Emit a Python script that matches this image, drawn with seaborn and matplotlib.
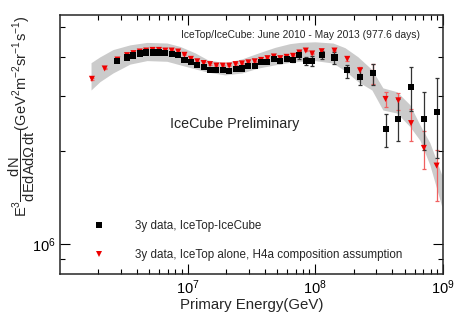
import numpy as np
import pandas as pd
import matplotlib
matplotlib.use('Agg')
import matplotlib.pyplot as plt
import matplotlib.ticker as ticker
import seaborn as sns

# log10(E / GeV) of the bin centres
logE_icecube = [6.45, 6.525, 6.575, 6.625, 6.675, 6.725, 6.775, 6.825, 6.875, 6.925,
                6.975, 7.025, 7.075, 7.125, 7.175, 7.225, 7.275, 7.325, 7.375, 7.425,
                7.475, 7.525, 7.575, 7.625, 7.675, 7.725, 7.775, 7.825, 7.875, 7.925,
                7.975, 8.05, 8.15, 8.25, 8.35, 8.45, 8.55, 8.65, 8.75, 8.85, 8.95]
# E^3 dN/dE... in units of 1e6 GeV^2 m^-2 sr^-1 s^-1
flux_icecube = [3.88, 3.98, 4.04, 4.10, 4.13, 4.13, 4.13, 4.11, 4.09, 4.05,
                3.91, 3.84, 3.77, 3.72, 3.64, 3.64, 3.64, 3.61, 3.66, 3.67,
                3.73, 3.74, 3.86, 3.86, 3.95, 3.87, 3.94, 3.91, 4.06, 3.88,
                3.88, 4.05, 3.98, 3.62, 3.45, 3.55, 2.34, 2.53, 3.20, 2.53, 2.66]
err_lo_icecube = [0.03, 0.03, 0.03, 0.03, 0.03, 0.03, 0.03, 0.03, 0.03, 0.03,
                  0.03, 0.03, 0.03, 0.03, 0.03, 0.03, 0.03, 0.03, 0.03, 0.03,
                  0.03, 0.03, 0.04, 0.04, 0.04, 0.05, 0.06, 0.06, 0.12, 0.12,
                  0.14, 0.12, 0.18, 0.20, 0.21, 0.30, 0.29, 0.38, 0.52, 0.52, 0.77]
err_hi_icecube = [0.03, 0.03, 0.03, 0.03, 0.03, 0.03, 0.03, 0.03, 0.03, 0.03,
                  0.03, 0.03, 0.03, 0.03, 0.03, 0.03, 0.03, 0.03, 0.03, 0.03,
                  0.03, 0.03, 0.04, 0.04, 0.04, 0.05, 0.06, 0.06, 0.12, 0.12,
                  0.14, 0.12, 0.18, 0.15, 0.23, 0.25, 0.28, 0.40, 0.51, 0.56, 0.76]

logE_icetop = [6.25, 6.35, 6.45, 6.525, 6.575, 6.625, 6.675, 6.725, 6.775, 6.825,
               6.875, 6.925, 6.975, 7.025, 7.075, 7.125, 7.175, 7.225, 7.275, 7.325,
               7.375, 7.425, 7.475, 7.525, 7.575, 7.625, 7.675, 7.725, 7.775, 7.825,
               7.875, 7.925, 7.975, 8.05, 8.15, 8.25, 8.35, 8.45, 8.55, 8.65,
               8.75, 8.85, 8.95]
flux_icetop = [3.40, 3.67, 3.92, 4.05, 4.11, 4.16, 4.19, 4.21, 4.21, 4.19,
               4.19, 4.16, 4.06, 3.94, 3.87, 3.82, 3.79, 3.75, 3.75, 3.75,
               3.79, 3.81, 3.84, 3.87, 3.91, 3.96, 4.01, 3.96, 4.00, 4.03,
               4.13, 4.19, 4.10, 4.17, 4.19, 3.94, 3.62, 3.55, 2.93, 2.90,
               2.45, 2.04, 1.79]
err_lo_icetop = [0.02] * 35 + [0.06, 0.10, 0.28, 0.17, 0.20, 0.30, 0.30, 0.41]
err_hi_icetop = [0.02] * 35 + [0.06, 0.10, 0.25, 0.15, 0.17, 0.27, 0.28, 0.22]

# systematic band
band_logE = [6.243, 6.313, 6.415, 6.548, 6.681, 6.838, 6.940, 7.057, 7.159, 7.292,
             7.425, 7.550, 7.684, 7.801, 7.879, 7.997, 8.138, 8.232, 8.334, 8.443,
             8.529, 8.639, 8.740, 8.819, 8.897, 8.991]
band_hi = [3.83, 4.00, 4.22, 4.37, 4.45, 4.43, 4.32, 4.12, 3.91, 3.83,
           3.94, 4.11, 4.29, 4.41, 4.45, 4.47, 4.43, 4.28, 4.00, 3.64,
           3.18, 3.09, 2.81, 2.42, 2.12, 1.67]
band_lo = [3.13, 3.33, 3.55, 3.79, 3.89, 3.87, 3.77, 3.66, 3.57, 3.50,
           3.55, 3.68, 3.77, 3.84, 3.87, 3.89, 3.82, 3.61, 3.33, 3.13,
           2.70, 2.64, 2.39, 2.16, 1.80, 1.32]

lab_ic = '3y data, IceTop-IceCube'
lab_it = '3y data, IceTop alone, H4a composition assumption'

sns.set_style('ticks')
plt.rcParams['font.family'] = ['Liberation Sans', 'DejaVu Sans']
plt.rcParams['mathtext.fontset'] = 'custom'
plt.rcParams['mathtext.rm'] = 'Liberation Sans'
plt.rcParams['mathtext.it'] = 'Liberation Sans'
plt.rcParams['mathtext.bf'] = 'Liberation Sans:bold'

# red first so the black squares sit on top
df = pd.concat([
    pd.DataFrame({'E': 10 ** np.array(logE_icetop), 'flux': np.array(flux_icetop) * 1e6, 'sample': lab_it}),
    pd.DataFrame({'E': 10 ** np.array(logE_icecube), 'flux': np.array(flux_icecube) * 1e6, 'sample': lab_ic}),
], ignore_index=True)

fig = plt.figure(figsize=(4.63, 3.17), dpi=100)
ax = fig.add_axes([0.1296, 0.1356, 0.8272, 0.8171])

ax.fill_between(10 ** np.array(band_logE), np.array(band_lo) * 1e6, np.array(band_hi) * 1e6,
                color='#cbcbcb', lw=0, zorder=1)

ax.errorbar(10 ** np.array(logE_icetop), np.array(flux_icetop) * 1e6,
            yerr=[np.array(err_lo_icetop) * 1e6, np.array(err_hi_icetop) * 1e6],
            fmt='none', ecolor='#f06060', elinewidth=0.9, capsize=1.6, capthick=0.9, zorder=2)
ax.errorbar(10 ** np.array(logE_icecube), np.array(flux_icecube) * 1e6,
            yerr=[np.array(err_lo_icecube) * 1e6, np.array(err_hi_icecube) * 1e6],
            fmt='none', ecolor='#333333', elinewidth=0.9, capsize=1.6, capthick=0.9, zorder=3)

sns.scatterplot(data=df, x='E', y='flux', hue='sample', style='sample',
                hue_order=[lab_ic, lab_it], style_order=[lab_ic, lab_it],
                palette={lab_ic: 'black', lab_it: '#ee0000'},
                markers={lab_ic: 's', lab_it: 'v'},
                s=19, linewidth=0, ax=ax, zorder=4)

ax.set_xscale('log')
ax.set_yscale('log')
ax.set_xlim(1e6, 1e9)
ax.set_ylim(8.03e5, 5.45e6)

ax.xaxis.set_major_locator(ticker.FixedLocator([1e7, 1e8, 1e9]))
ax.xaxis.set_major_formatter(ticker.LogFormatterSciNotation())
ax.xaxis.set_minor_locator(ticker.LogLocator(base=10, subs=range(2, 10)))
ax.xaxis.set_minor_formatter(ticker.NullFormatter())
ax.yaxis.set_major_locator(ticker.FixedLocator([1e6]))
ax.yaxis.set_major_formatter(ticker.LogFormatterSciNotation())
ax.yaxis.set_minor_locator(ticker.LogLocator(base=10, subs=range(2, 10)))
ax.yaxis.set_minor_formatter(ticker.NullFormatter())

ax.tick_params(which='both', direction='in', top=True, right=True, width=0.8, colors='black')
ax.tick_params(which='major', length=7, labelsize=10.5, pad=3)
ax.tick_params(which='minor', length=3.5)
for sp in ax.spines.values():
    sp.set_linewidth(1.1)

ax.set_xlabel('Primary Energy(GeV)', fontsize=10.8, labelpad=1)
ax.set_ylabel(r'$\mathrm{E^{3}\dfrac{dN}{dEdAd\Omega\,dt}}$(GeV$^{2}$m$^{-2}$sr$^{-1}$s$^{-1}$)',
              fontsize=10.5, loc='top')
ax.yaxis.set_label_coords(-0.06, 1.0)

ax.text(0.316, 0.923, 'IceTop/IceCube: June 2010 - May 2013 (977.6 days)',
        transform=ax.transAxes, fontsize=7.4, va='center', ha='left')
ax.text(0.287, 0.579, 'IceCube Preliminary', transform=ax.transAxes,
        fontsize=10.3, va='center', ha='left')

handles, labels = ax.get_legend_handles_labels()
ax.legend(handles=handles, labels=labels, loc='lower left', bbox_to_anchor=(0.0747, 0.031),
          frameon=False, fontsize=8.4, labelspacing=1.5, handlelength=1.0,
          handletextpad=2.6, borderaxespad=0, markerscale=1.0)

fig.savefig('out.png', dpi=100)
